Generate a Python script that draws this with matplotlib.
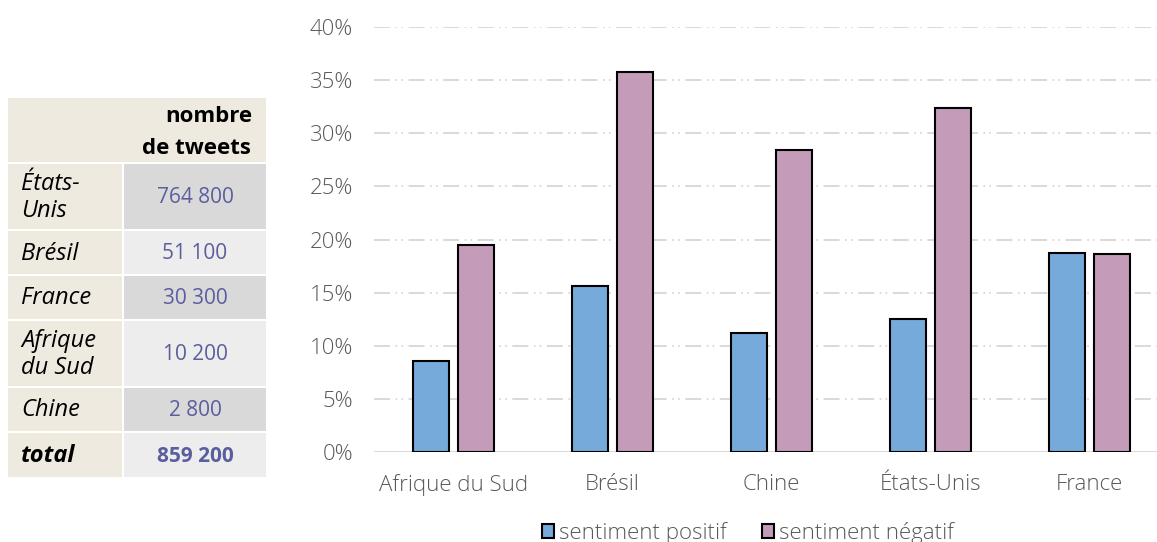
import matplotlib
matplotlib.use("Agg")
import matplotlib.pyplot as plt
from matplotlib.patches import Rectangle
import numpy as np

# ---- data ----
categories = ["Afrique du Sud", "Brésil", "Chine", "États-Unis", "France"]
positif = [8.55, 15.6, 11.2, 12.5, 18.7]
negatif = [19.5, 35.8, 28.4, 32.4, 18.6]
series_names = ["sentiment positif", "sentiment négatif"]
yticks = [0, 5, 10, 15, 20, 25, 30, 35, 40]

table_header = ["nombre", "de tweets"]
table_countries = ["États-\nUnis", "Brésil", "France", "Afrique\ndu Sud", "Chine"]
table_tweets = [764800, 51100, 30300, 10200, 2800]
table_total_label = "total"

def fmt(n):
    return f"{n:,}".replace(",", " ")

W, H = 1157, 542
fig = plt.figure(figsize=(W / 100, H / 100), dpi=100)
plt.rcParams["lines.scale_dashes"] = False

FONT = "Open Sans"
BLUE = "#75AADB"
PINK = "#C49BB9"
GRAY = "#595959"

# ---- bar chart ----
ax_left, ax_right = 374 / W, 1.0
ax_bottom, ax_top = 1 - 452 / H, 1 - 27 / H
ax = fig.add_axes([ax_left, ax_bottom, ax_right - ax_left, ax_top - ax_bottom])
x = np.arange(len(categories))
bw = 0.226
off = 0.142
ax.bar(x - off, positif, bw, color=BLUE, edgecolor="black", linewidth=1.5,
       label=series_names[0], zorder=3)
ax.bar(x + off, negatif, bw, color=PINK, edgecolor="black", linewidth=1.5,
       label=series_names[1], zorder=3)
ax.set_ylim(0, 40)
ax.set_xlim(-0.5, 4.5 - 12 / 159)
ax.set_yticks(yticks)
ax.set_yticklabels([f"{v}%" for v in yticks])
ax.set_xticks(x)
ax.set_xticklabels(categories)
for s in ax.spines.values():
    s.set_visible(False)
ax.tick_params(length=0)
ax.tick_params(axis="y", pad=15)
ax.tick_params(axis="x", pad=16)
for lab in ax.get_yticklabels() + ax.get_xticklabels():
    lab.set_fontfamily(FONT)
    lab.set_fontweight("light")
    lab.set_fontsize(16)
    lab.set_color(GRAY)
ax.yaxis.grid(True, color="#D9D9D9", linewidth=1.4,
              linestyle=(0, (11.5, 4.0, 1.2, 3.0, 1.2, 4.0)), zorder=0)
ax.axhline(0, color="#D9D9D9", linewidth=1.4, zorder=2)
ax.set_axisbelow(True)

leg = fig.legend(loc="center", bbox_to_anchor=(748 / W, 1 - 533 / H), ncol=2,
                 frameon=False, handlelength=0.55, handleheight=0.55,
                 handletextpad=0.2, columnspacing=1.6,
                 prop={"family": FONT, "weight": "light", "size": 16})
for t in leg.get_texts():
    t.set_color(GRAY)
for h in leg.legend_handles:
    h.set_linewidth(1.5)

# ---- table ----
tax = fig.add_axes([0, 0, 1, 1])
tax.set_xlim(0, W)
tax.set_ylim(H, 0)
tax.axis("off")
tax.patch.set_alpha(0)

BEIGE = "#EEEAE0"
DARK = "#D9D9D9"
LIGHT = "#EDEDED"
NUMC = "#5B5E9E"
c1x0, c1x1, c2x0, c2x1 = 8, 122, 124, 266
rows = [(164, 229), (231, 274), (276, 319), (321, 386), (388, 431)]
total_row = (433, 477)
header_row = (98, 162)

tax.add_patch(Rectangle((c1x0, header_row[0]), c2x1 - c1x0, header_row[1] - header_row[0],
                        color=BEIGE, lw=0))
for (hx, hy), line in zip([(209, 116), (196, 148)], table_header):
    tax.text(hx, hy, line, ha="center", va="center", fontsize=16, fontweight="bold",
             family=FONT, color="black")
for i, ((y0, y1), name, val) in enumerate(zip(rows, table_countries, table_tweets)):
    tax.add_patch(Rectangle((c1x0, y0), c1x1 - c1x0, y1 - y0, color=BEIGE, lw=0))
    tax.add_patch(Rectangle((c2x0, y0), c2x1 - c2x0, y1 - y0,
                            color=DARK if i % 2 == 0 else LIGHT, lw=0))
    tax.text(21, (y0 + y1) / 2 + 1, name, ha="left", va="center", fontsize=17,
             style="italic", family=FONT, color="black", linespacing=1.2)
    tax.text((c2x0 + c2x1) / 2, (y0 + y1) / 2 + 1, fmt(val), ha="center", va="center",
             fontsize=15, family=FONT, color=NUMC)
y0, y1 = total_row
tax.add_patch(Rectangle((c1x0, y0), c1x1 - c1x0, y1 - y0, color=BEIGE, lw=0))
tax.add_patch(Rectangle((c2x0, y0), c2x1 - c2x0, y1 - y0, color=LIGHT, lw=0))
tax.text(21, (y0 + y1) / 2 + 1, table_total_label, ha="left", va="center", fontsize=17,
         style="italic", fontweight="bold", family=FONT, color="black")
tax.text((c2x0 + c2x1) / 2, (y0 + y1) / 2 + 1, fmt(sum(table_tweets)), ha="center",
         va="center", fontsize=15, fontweight="bold", family=FONT, color=NUMC)

fig.savefig("out.png", dpi=100)
